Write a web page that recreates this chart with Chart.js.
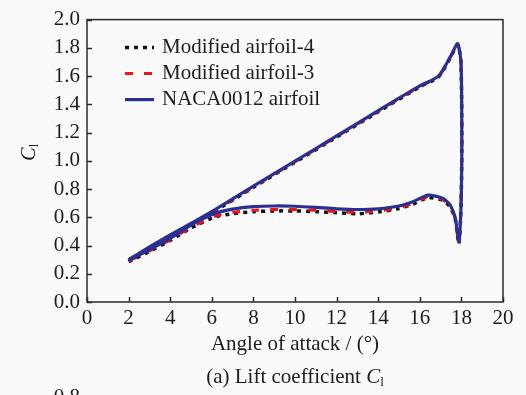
<!DOCTYPE html>
<html>
<head>
<meta charset="utf-8">
<script src="https://cdn.jsdelivr.net/npm/chart.js@4"></script>
<style>
  html, body { margin: 0; padding: 0; background: #fafafa; }
  #wrap { width: 526px; height: 395px; position: relative; }
</style>
</head>
<body>
<div id="wrap"><canvas id="lift"></canvas></div>
<script>
// angle of attack along one pitching cycle: upstroke 2 -> 18, then downstroke back to 2
const angle = [2.0, 3.0, 4.0, 5.0, 6.0, 8.0, 10.0, 12.0, 14.0, 16.0, 16.9, 17.5, 17.82,
  17.98, 18.02, 17.98, 17.88, 17.7, 17.45, 17.1, 16.4, 15.7, 15.0, 14.0, 13.0, 12.0,
  11.0, 10.0, 9.0, 8.0, 7.0, 6.2, 5.0, 4.0, 3.0, 2.0];

const clMod4 = [0.290, 0.378, 0.462, 0.545, 0.630, 0.812, 0.990, 1.168, 1.347, 1.523, 1.594, 1.738, 1.826,
  1.70, 1.10, 0.67, 0.410, 0.590, 0.675, 0.720, 0.740, 0.695, 0.662, 0.637, 0.625, 0.632,
  0.640, 0.645, 0.645, 0.640, 0.625, 0.605, 0.525, 0.435, 0.358, 0.285];

const clMod3 = [0.295, 0.383, 0.468, 0.550, 0.634, 0.815, 0.993, 1.171, 1.350, 1.526, 1.596, 1.740, 1.828,
  1.70, 1.10, 0.67, 0.405, 0.590, 0.680, 0.725, 0.745, 0.700, 0.668, 0.645, 0.635, 0.640,
  0.650, 0.655, 0.655, 0.650, 0.635, 0.610, 0.530, 0.440, 0.362, 0.290];

const clNaca = [0.300, 0.390, 0.475, 0.557, 0.640, 0.820, 0.998, 1.176, 1.355, 1.530, 1.600, 1.745, 1.830,
  1.70, 1.10, 0.68, 0.425, 0.600, 0.690, 0.735, 0.757, 0.712, 0.680, 0.660, 0.655, 0.660,
  0.670, 0.678, 0.680, 0.675, 0.658, 0.630, 0.545, 0.450, 0.370, 0.295];

const seriesNames = ['Modified airfoil-4', 'Modified airfoil-3', 'NACA0012 airfoil'];

const SERIF = '"Liberation Serif", "Times New Roman", serif';
const INK = '#1c1c1c';

function pts(vals) {
  return angle.map((a, i) => ({x: a, y: vals[i]}));
}

const decor = {
  id: 'decor',
  afterDraw(chart) {
    const {ctx, chartArea: a, scales: {x, y}} = chart;
    ctx.save();

    // box frame and inward ticks
    ctx.strokeStyle = '#2b2b2b';
    ctx.lineWidth = 1.5;
    ctx.setLineDash([]);
    ctx.strokeRect(a.left, a.top, a.right - a.left, a.bottom - a.top);
    ctx.beginPath();
    x.ticks.forEach(t => {
      const px = Math.round(x.getPixelForValue(t.value)) + 0.5;
      ctx.moveTo(px, a.bottom);
      ctx.lineTo(px, a.bottom - 5);
    });
    y.ticks.forEach(t => {
      const py = Math.round(y.getPixelForValue(t.value)) + 0.5;
      ctx.moveTo(a.left, py);
      ctx.lineTo(a.left + 5, py);
    });
    ctx.stroke();

    // legend, top-left inside the plot
    ctx.font = '21px ' + SERIF;
    ctx.textBaseline = 'middle';
    ctx.textAlign = 'left';
    chart.data.datasets.forEach((ds, i) => {
      const yc = a.top + 28 + i * 26;
      ctx.strokeStyle = ds.borderColor;
      ctx.lineWidth = ds.borderWidth;
      ctx.lineCap = 'butt';
      ctx.setLineDash(ds.borderDash || []);
      ctx.beginPath();
      ctx.moveTo(a.left + 38, yc);
      ctx.lineTo(a.left + 67, yc);
      ctx.stroke();
      ctx.setLineDash([]);
      ctx.fillStyle = INK;
      ctx.fillText(ds.label, a.left + 75, yc);
    });

    // y axis label C_l
    ctx.fillStyle = INK;
    ctx.translate(28, 152);
    ctx.rotate(-Math.PI / 2);
    ctx.textBaseline = 'alphabetic';
    ctx.font = 'italic 20px ' + SERIF;
    const cw = ctx.measureText('C').width;
    ctx.fillText('C', -cw / 2 - 2, 7);
    ctx.font = '12px ' + SERIF;
    ctx.fillText('l', cw / 2 - 2, 10);
    ctx.setTransform(1, 0, 0, 1, 0, 0);

    // caption under the axis title
    const cap = '(a) Lift coefficient ';
    ctx.font = '21px ' + SERIF;
    const w1 = ctx.measureText(cap).width;
    ctx.font = 'italic 21px ' + SERIF;
    const w2 = ctx.measureText('C').width;
    ctx.font = '13px ' + SERIF;
    const w3 = ctx.measureText('l').width;
    let cx = (a.left + a.right) / 2 - (w1 + w2 + w3) / 2;
    const base = 383;
    ctx.textAlign = 'left';
    ctx.font = '21px ' + SERIF;
    ctx.fillText(cap, cx, base);
    ctx.font = 'italic 21px ' + SERIF;
    ctx.fillText('C', cx + w1, base);
    ctx.font = '13px ' + SERIF;
    ctx.fillText('l', cx + w1 + w2, base + 3);

    // top of the next panel's tick label, cut by the bottom edge
    ctx.font = '21px ' + SERIF;
    ctx.textAlign = 'right';
    ctx.fillText('0.8', 80, 403);

    ctx.restore();
  }
};

const lineBase = {showLine: true, pointRadius: 0, tension: 0.2, fill: false, borderCapStyle: 'butt'};

new Chart(document.getElementById('lift'), {
  type: 'scatter',
  data: {
    datasets: [
      {...lineBase, label: seriesNames[0], data: pts(clMod4), borderColor: '#141414',
        borderWidth: 3.5, borderDash: [4, 5], order: 2},
      {...lineBase, label: seriesNames[1], data: pts(clMod3), borderColor: '#f01414',
        borderWidth: 3, borderDash: [8, 11], order: 1},
      {...lineBase, label: seriesNames[2], data: pts(clNaca), borderColor: '#2a2f94',
        borderWidth: 3.2, order: 0}
    ]
  },
  options: {
    responsive: true,
    maintainAspectRatio: false,
    animation: false,
    layout: {padding: {top: 15, right: 23, left: 0, bottom: 0}},
    plugins: {legend: {display: false}, tooltip: {enabled: false}},
    scales: {
      x: {
        type: 'linear',
        min: 0, max: 20,
        afterFit(scale) { scale.height = 93; },
        grid: {display: false, drawTicks: false},
        border: {display: false},
        ticks: {stepSize: 2, padding: 4, color: INK, font: {family: SERIF, size: 21}},
        title: {display: true, text: 'Angle of attack / (°)', color: INK,
          font: {family: SERIF, size: 21}, padding: {top: 0, bottom: 38}}
      },
      y: {
        min: 0, max: 2.0,
        afterFit(scale) { scale.width = 87; },
        grid: {display: false, drawTicks: false},
        border: {display: false},
        ticks: {stepSize: 0.2, padding: 7, color: INK, font: {family: SERIF, size: 21},
          callback: v => v.toFixed(1)}
      }
    }
  },
  plugins: [decor]
});
</script>
</body>
</html>
